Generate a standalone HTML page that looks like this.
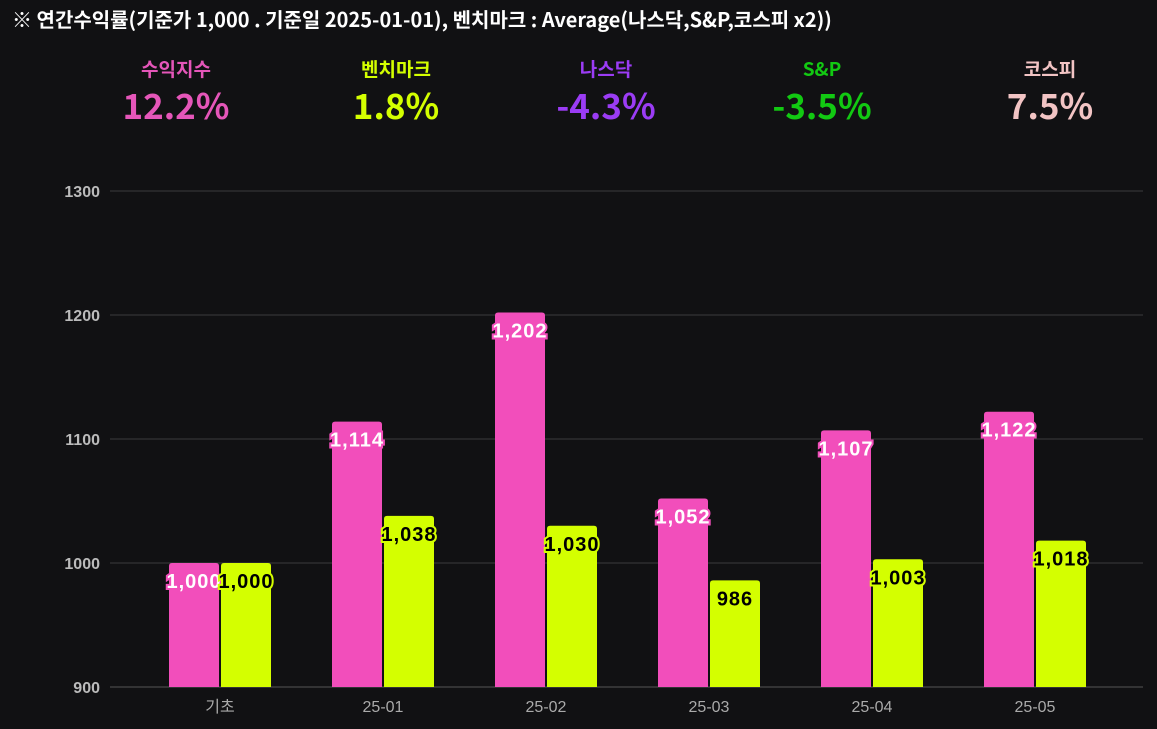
<!DOCTYPE html>
<html><head><meta charset="utf-8"><style>
body{margin:0;background:#111113;width:1157px;height:729px;overflow:hidden;font-family:"Liberation Sans","Noto Sans CJK KR",sans-serif}
.title{position:absolute;left:12px;top:4px;color:#fff;font-weight:bold;font-size:20px;font-family:"Noto Sans CJK KR","Liberation Sans",sans-serif;white-space:nowrap}
.stat{position:absolute;width:200px;text-align:center;font-family:"Noto Sans CJK KR","Liberation Sans",sans-serif}
.stat .l{font-size:19px;font-weight:bold;position:absolute;top:55px;width:200px}
.stat .v{font-size:35px;font-weight:bold;position:absolute;top:79px;width:200px}
</style></head><body>
<div class="title">※ 연간수익률(기준가 1,000 . 기준일 2025-01-01), 벤치마크 : Average(나스닥,S&amp;P,코스피 x2))</div>
<div class="stat" style="left:76px;color:#e556b9"><div class="l">수익지수</div><div class="v">12.2%</div></div>
<div class="stat" style="left:296px;color:#d4ff00"><div class="l">벤치마크</div><div class="v">1.8%</div></div>
<div class="stat" style="left:506px;color:#9b3cf5"><div class="l">나스닥</div><div class="v">-4.3%</div></div>
<div class="stat" style="left:722px;color:#12c912"><div class="l">S&amp;P</div><div class="v">-3.5%</div></div>
<div class="stat" style="left:950px;color:#f2c4c4"><div class="l">코스피</div><div class="v">7.5%</div></div>
<svg id="chart" width="1157" height="729" style="position:absolute;left:0;top:0"></svg>
<script>
const categories=["기초","25-01","25-02","25-03","25-04","25-05"];
const indexValues=[1000,1114,1202,1052,1107,1122];
const benchValues=[1000,1038,1030,986,1003,1018];
const yTicks=[900,1000,1100,1200,1300];
const svg=document.getElementById('chart');const NS='http://www.w3.org/2000/svg';
const y=v=>687-(v-900)*1.24;
const xc=i=>220+i*163;
function mk(t,a){const e=document.createElementNS(NS,t);for(const k in a)e.setAttribute(k,a[k]);svg.appendChild(e);return e;}
yTicks.forEach(t=>{
 const g=mk('line',{x1:110,x2:1143,y1:y(t),y2:y(t),stroke:t===900?'#555':'#3a3a3c','stroke-width':1});
 
 
 const tx=mk('text',{x:100,y:y(t)+6,'text-anchor':'end',fill:'#bbb','font-size':16,'font-weight':'bold','font-family':'Liberation Sans'});
 tx.textContent=t;
 
 
});
categories.forEach((c,i)=>{
 const tx=mk('text',{x:xc(i),y:712,'text-anchor':'middle',fill:'#aaa','font-size':16,'font-family':'Liberation Sans, Noto Sans CJK KR, sans-serif'});
 tx.textContent=c;
 
 
 [[indexValues,-51,'#f24ebb','#fff','#f24ebb','bar-index'],[benchValues,1,'#d4ff00','#000','#d4ff00','bar-benchmark']].forEach(s=>{
  const v=s[0][i],top=y(v),x=xc(i)+s[1];
  const r=mk('path',{d:`M${x},687 V${top+3} Q${x},${top} ${x+3},${top} H${x+47} Q${x+50},${top} ${x+50},${top+3} V687 Z`,fill:s[2]});
  
  
  const l=mk('text',{x:x+25,y:top+25,'text-anchor':'middle',fill:s[3],stroke:s[4],'stroke-width':4,'paint-order':'stroke','font-size':20,'font-weight':'bold','letter-spacing':'1','font-family':'Liberation Sans'});
  l.textContent=v.toLocaleString('en-US');
  
  
 });
});
</script>
</body></html>
